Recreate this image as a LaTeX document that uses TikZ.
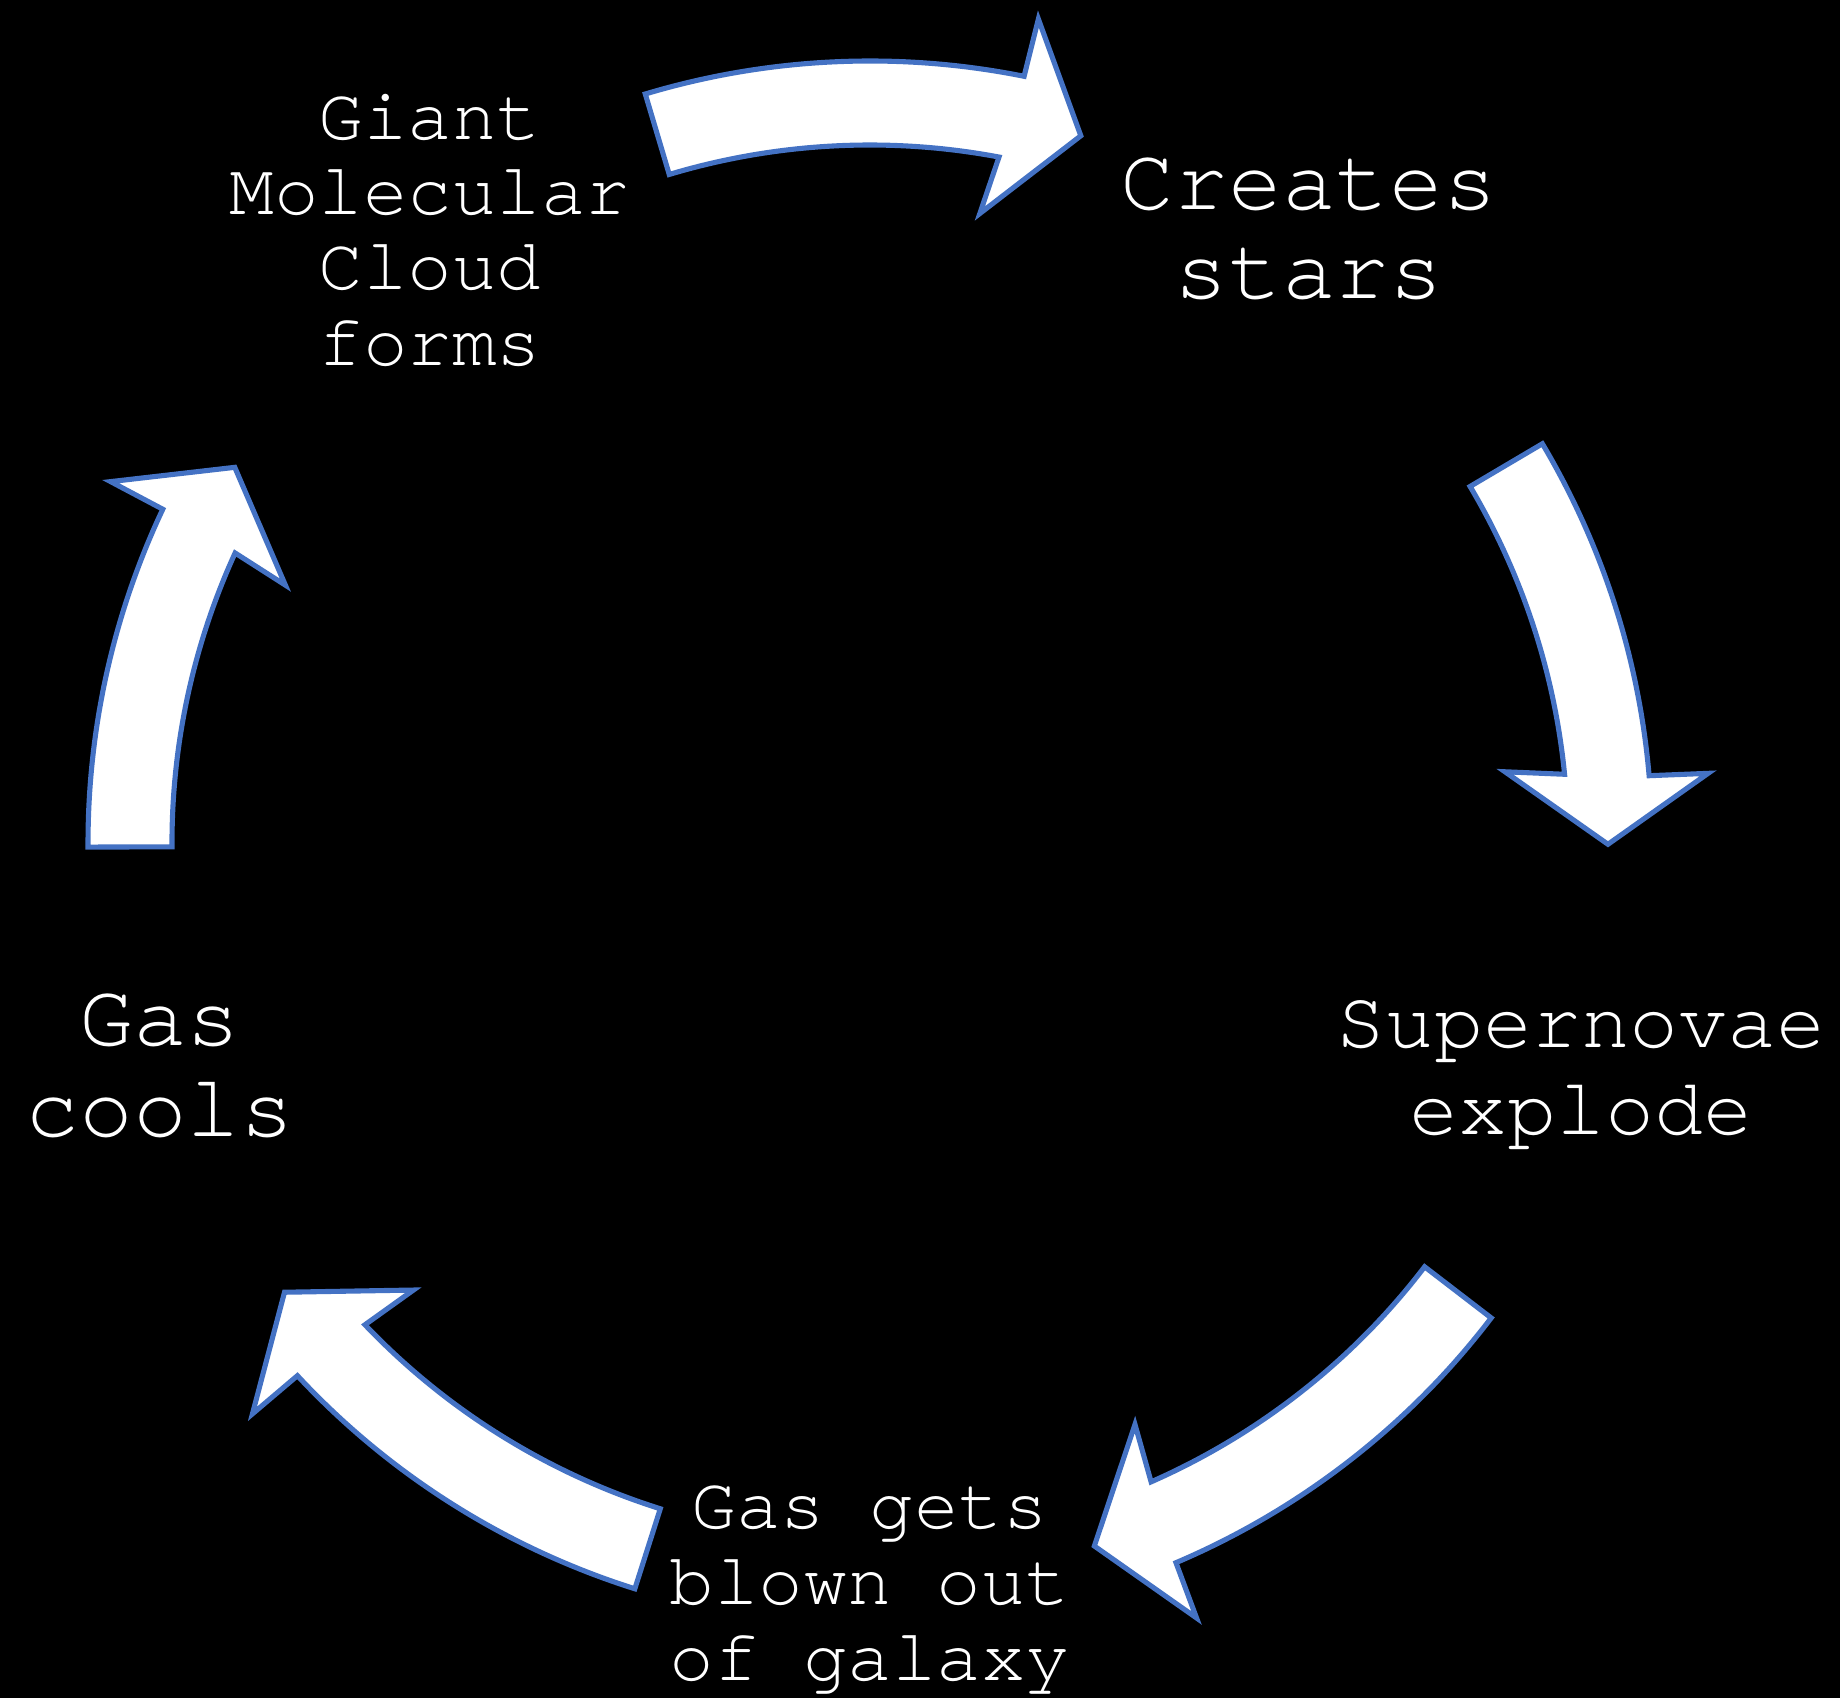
\documentclass[tikz,border=0pt]{standalone}
\usepackage{fontspec}
\setmonofont{TeX Gyre Cursor}
\definecolor{arrowblue}{RGB}{68,114,196}
\tikzset{
  cyc/.style={fill=white, draw=arrowblue, line width=1.45pt, line join=miter},
  lbl/.style={text=white, inner sep=0pt, anchor=base},
}
% #1 start angle, #2 head base angle, #3 tip angle
\newcommand\cycarrow[3]{%
  \path[cyc] (#1:782) arc[start angle=#1, end angle=#2-0.35, radius=7.82cm]
    -- (#2-0.55:841) -- (#3:738) -- (#2+1.1:639) -- (#2+0.35:698)
    arc[start angle=#2+0.35, end angle=#1, radius=6.98cm] -- cycle;}
\begin{document}
\begin{tikzpicture}[x=0.01cm, y=0.01cm]
  \useasboundingbox (-870,-855) rectangle (970,843);
  \fill[black] (-870,-855) rectangle (970,843);
  \cycarrow{106.7}{79.0}{73.4}
  \cycarrow{30.7}{5.3}{-0.1}
  \cycarrow{-37.4}{-66.6}{-72.3}
  \cycarrow{252.5}{223.3}{217.5}
  \cycarrow{180.3}{155.1}{149.4}
  \node[lbl, font=\ttfamily\fontsize{21.1pt}{21.4pt}\selectfont] (gmc) at (-440,703.7)
    {\begin{tabular}[t]{@{}c@{}}Giant\\Molecular\\Cloud\\forms\end{tabular}};
  \node[lbl, font=\ttfamily\fontsize{25.5pt}{25.1pt}\selectfont] (stars) at (439,633)
    {\begin{tabular}[t]{@{}c@{}}Creates\\stars\end{tabular}};
  \node[lbl, font=\ttfamily\fontsize{23.2pt}{24.7pt}\selectfont] (sn) at (711,-205)
    {\begin{tabular}[t]{@{}c@{}}Supernovae\\explode\end{tabular}};
  \node[lbl, font=\ttfamily\fontsize{21.1pt}{21.6pt}\selectfont] (blown) at (0,-685.3)
    {\begin{tabular}[t]{@{}c@{}}Gas gets\\blown out\\of galaxy\end{tabular}};
  \node[lbl, font=\ttfamily\fontsize{25.5pt}{25.6pt}\selectfont] (cools) at (-710,-203)
    {\begin{tabular}[t]{@{}c@{}}Gas\\cools\end{tabular}};
\end{tikzpicture}
\end{document}
